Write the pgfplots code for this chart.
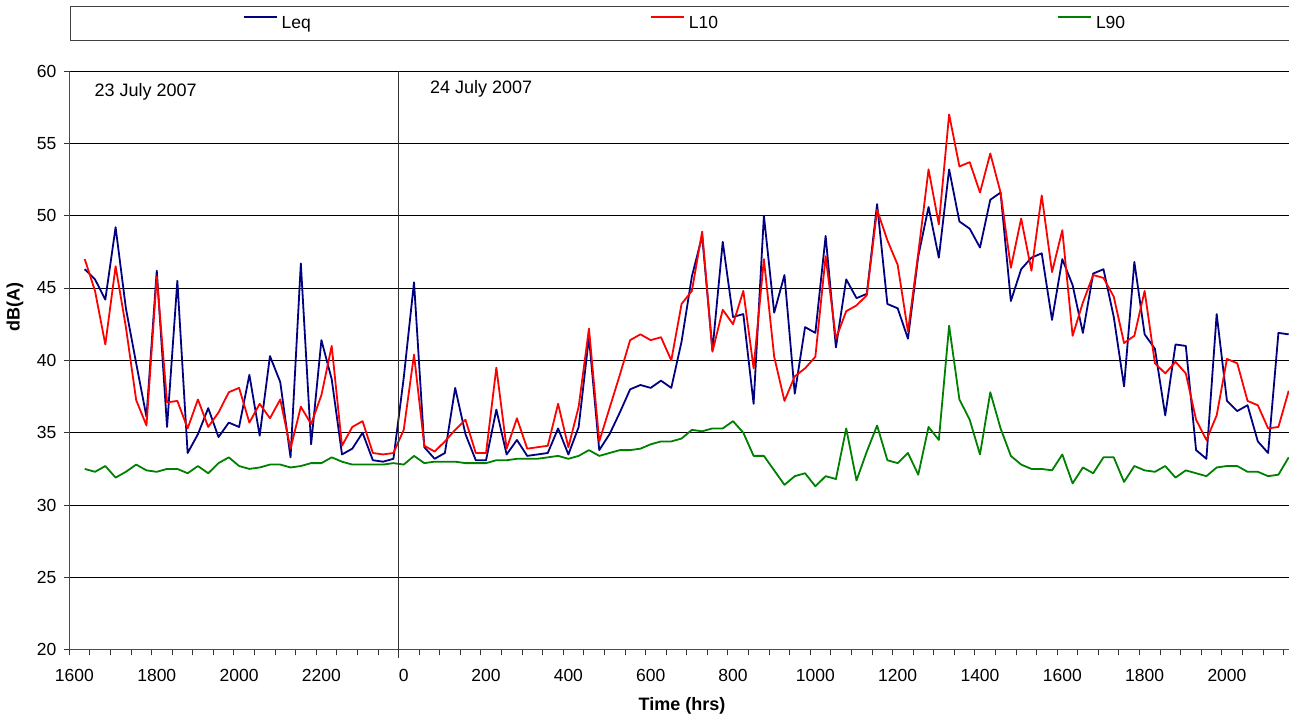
\documentclass[border=0pt]{standalone}
\usepackage{pgfplots}
\pgfplotsset{compat=1.18}
\usepackage{pgfplotstable}
\usepackage{fontspec}
\setmainfont{Liberation Sans}
\definecolor{leqc}{RGB}{0,0,128}
\definecolor{l10c}{RGB}{255,0,0}
\definecolor{l90c}{RGB}{0,128,0}
\pgfplotstableread{
c leq l10 l90
1 46.3 47.0 32.5
2 45.6 44.8 32.3
3 44.2 41.1 32.7
4 49.2 46.5 31.9
5 43.6 42.3 32.3
6 39.8 37.25 32.8
7 36.1 35.5 32.4
8 46.2 45.8 32.3
9 35.4 37.1 32.5
10 45.5 37.2 32.5
11 33.6 35.3 32.2
12 34.9 37.3 32.7
13 36.7 35.4 32.2
14 34.7 36.4 32.9
15 35.7 37.8 33.3
16 35.4 38.1 32.7
17 39.0 35.7 32.5
18 34.8 37.0 32.6
19 40.3 36.0 32.8
20 38.5 37.3 32.8
21 33.3 33.9 32.6
22 46.7 36.8 32.7
23 34.2 35.6 32.9
24 41.4 37.6 32.9
25 38.7 41.0 33.3
26 33.5 34.1 33.0
27 33.9 35.4 32.8
28 35.0 35.8 32.8
29 33.1 33.6 32.8
30 33.0 33.5 32.8
31 33.2 33.6 32.9
32 38.8 35.2 32.8
33 45.4 40.4 33.4
34 34.0 34.1 32.9
35 33.2 33.7 33.0
36 33.6 34.4 33.0
37 38.1 35.2 33.0
38 34.9 35.9 32.9
39 33.1 33.6 32.9
40 33.1 33.6 32.9
41 36.6 39.5 33.1
42 33.5 33.9 33.1
43 34.5 36.0 33.2
44 33.4 33.9 33.2
45 33.5 34.0 33.2
46 33.6 34.1 33.3
47 35.3 37.0 33.4
48 33.5 34.0 33.2
49 35.4 36.8 33.4
50 41.6 42.2 33.8
51 33.8 34.4 33.4
52 34.9 36.7 33.6
53 36.4 39.0 33.8
54 38.0 41.4 33.8
55 38.3 41.8 33.9
56 38.1 41.4 34.2
57 38.6 41.6 34.4
58 38.1 40.0 34.4
59 41.3 43.9 34.6
60 45.8 44.8 35.2
61 48.6 48.9 35.1
62 40.7 40.6 35.3
63 48.2 43.5 35.3
64 43.0 42.5 35.8
65 43.2 44.8 35.0
66 37.0 39.45 33.4
67 50.0 47.0 33.4
68 43.3 40.25 32.4
69 45.9 37.2 31.4
70 37.7 38.9 32.0
71 42.3 39.45 32.2
72 41.9 40.25 31.3
73 48.6 47.2 32.0
74 40.9 41.5 31.8
75 45.6 43.4 35.3
76 44.3 43.8 31.7
77 44.6 44.5 33.7
78 50.8 50.4 35.5
79 43.9 48.3 33.1
80 43.6 46.6 32.9
81 41.5 42.0 33.6
82 47.2 47.4 32.1
83 50.6 53.2 35.4
84 47.1 49.4 34.5
85 53.2 57.0 42.4
86 49.6 53.4 37.3
87 49.1 53.7 35.9
88 47.8 51.6 33.5
89 51.1 54.3 37.8
90 51.6 51.6 35.3
91 44.1 46.4 33.4
92 46.3 49.8 32.8
93 47.1 46.2 32.5
94 47.4 51.4 32.5
95 42.8 46.1 32.4
96 47.0 49.0 33.5
97 45.2 41.7 31.5
98 41.9 44.0 32.6
99 46.0 45.9 32.2
100 46.3 45.7 33.3
101 43.0 44.4 33.3
102 38.2 41.2 31.6
103 46.8 41.7 32.7
104 41.8 44.8 32.4
105 40.8 39.8 32.3
106 36.2 39.1 32.7
107 41.1 39.9 31.9
108 41.0 39.1 32.4
109 33.8 35.9 32.2
110 33.2 34.5 32.0
111 43.2 36.2 32.6
112 37.2 40.1 32.7
113 36.5 39.8 32.7
114 36.9 37.2 32.3
115 34.4 36.9 32.3
116 33.6 35.3 32.0
117 41.9 35.4 32.1
118 41.8 37.9 33.3
}\datatable
\begin{document}
\begin{tikzpicture}
\useasboundingbox (0pt,0pt) rectangle (1289pt,719pt);
\draw[black!75, line width=1pt] (70.7pt,678.9pt) rectangle (1310pt,712.3pt);
\begin{axis}[
  scale only axis, width=1219.7pt, height=578.8pt,
  at={(69.3pt,69.2pt)}, anchor=south west,
  xmin=-0.5, xmax=118.03, ymin=20, ymax=60,
  axis x line*=bottom, axis y line*=left,
  axis line style={black!70, line width=1pt},
  ytick={20,25,...,60},
  ymajorgrids, grid style={black, line width=0.9pt},
  xtick={-0.5,1.5,...,117.5}, xticklabels={},
  extra x ticks={0,8,...,112},
  extra x tick labels={1600,1800,2000,2200,0,200,400,600,800,1000,1200,1400,1600,1800,2000},
  extra x tick style={major tick length=0pt, grid=none},
  tick align=outside, major tick length=5.5pt,
  tick style={black!80, line width=0.9pt},
  tick label style={font=\fontsize{17.5}{21}\selectfont},
  xticklabel style={yshift=-16pt},
  yticklabel style={xshift=-4pt},
  /pgf/number format/assume math mode=true,
  clip=false,
  no markers,
  every axis plot/.append style={line width=1.8pt, line join=round},
  legend columns=3,
  legend style={at={(0.14209,1.0823)}, anchor=west, draw=none, fill=none,
    inner sep=0pt, outer sep=0pt, font=\fontsize{17.5}{21}\selectfont,
    nodes={inner sep=0pt},
    /tikz/every odd column/.append style={column sep=4pt},
    /tikz/every even column/.append style={column sep=339pt}},
  legend image code/.code={\draw[#1, line width=2pt] (0pt,6pt) -- (33pt,6pt);},
]
\addplot[leqc] table[x=c, y=leq] {\datatable};
\addlegendentry{Leq}
\addplot[l10c] table[x=c, y=l10] {\datatable};
\addlegendentry{L10}
\addplot[l90c] table[x=c, y=l90] {\datatable};
\addlegendentry{L90}
\draw[black!80, line width=0.9pt] (axis cs:31.5,60) -- ([yshift=-8pt]axis cs:31.5,20);
\end{axis}
\node[rotate=90, font=\bfseries\fontsize{18}{21}\selectfont] at (15pt,412pt) {dB(A)};
\node[font=\bfseries\fontsize{18}{21}\selectfont] at (682pt,13pt) {Time (hrs)};
\node[anchor=west, inner sep=0pt, font=\fontsize{18}{21}\selectfont] at (94.3pt,627.3pt) {23 July 2007};
\node[anchor=west, inner sep=0pt, font=\fontsize{18}{21}\selectfont] at (430pt,630pt) {24 July 2007};
\end{tikzpicture}
\end{document}
